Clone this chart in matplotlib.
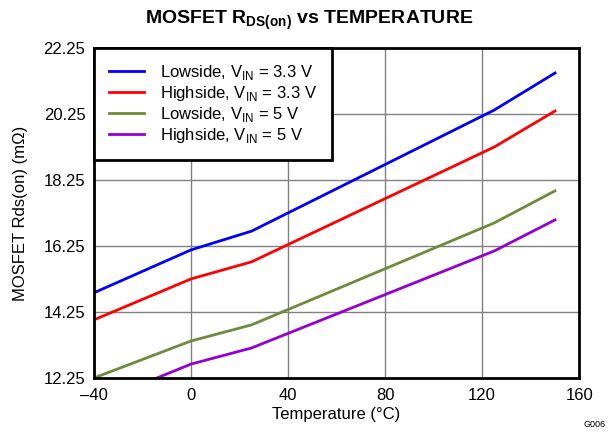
import matplotlib.pyplot as plt
import numpy as np

plt.rcParams['font.family'] = ['Liberation Sans', 'DejaVu Sans']

temps = [-40, 0, 25, 125, 150]
low_33 = [14.83, 16.13, 16.70, 20.37, 21.49]
high_33 = [14.01, 15.25, 15.77, 19.25, 20.34]
low_5 = [12.25, 13.37, 13.86, 16.95, 17.92]
high_5 = [11.47, 12.67, 13.16, 16.10, 17.04]

x_ticks = [-40, 0, 40, 80, 120, 160]
x_labels = ['\u201340', '0', '40', '80', '120', '160']
y_ticks = [12.25, 14.25, 16.25, 18.25, 20.25, 22.25]

fig = plt.figure(figsize=(6.13, 4.32), dpi=100)
ax = fig.add_axes([0.153, 0.125, 0.792, 0.764])

series = [
    (low_33, '#0000ff', 'Lowside, V$_{\\mathregular{IN}}$ = 3.3 V'),
    (high_33, '#ff0000', 'Highside, V$_{\\mathregular{IN}}$ = 3.3 V'),
    (low_5, '#6e8b3d', 'Lowside, V$_{\\mathregular{IN}}$ = 5 V'),
    (high_5, '#9400d3', 'Highside, V$_{\\mathregular{IN}}$ = 5 V'),
]
for vals, color, label in series:
    ax.plot(temps, vals, color=color, linewidth=2, label=label)

ax.set_xlim(-40, 160)
ax.set_ylim(12.25, 22.25)
ax.set_xticks(x_ticks)
ax.set_xticklabels(x_labels)
ax.set_yticks(y_ticks)
ax.tick_params(length=0, labelsize=12)
ax.tick_params(axis='x', pad=7)
ax.tick_params(axis='y', pad=6)
ax.grid(True, color='#808080', linewidth=1)
ax.set_axisbelow(True)
for sp in ax.spines.values():
    sp.set_linewidth(2)
    sp.set_color('black')

ax.set_xlabel('Temperature (\u00b0C)', fontsize=12, labelpad=3)
ax.set_ylabel('MOSFET Rds(on) (m\u03a9)', fontsize=12, labelpad=11)
fig.text(0.504, 0.953, 'MOSFET R$_{\\mathregular{DS(on)}}$ vs TEMPERATURE',
         fontsize=14, fontweight='bold', ha='center', va='center')

leg = ax.legend(loc='upper left', borderaxespad=0, fancybox=False, fontsize=12,
                handlelength=2.1, borderpad=0.9, labelspacing=0.12, handletextpad=1.0)
leg.get_frame().set_edgecolor('black')
leg.get_frame().set_linewidth(2)
leg.get_frame().set_alpha(1)

fig.text(0.988, 0.008, 'G006', fontsize=6.5, ha='right', va='bottom')

fig.savefig('out.png', dpi=100)
